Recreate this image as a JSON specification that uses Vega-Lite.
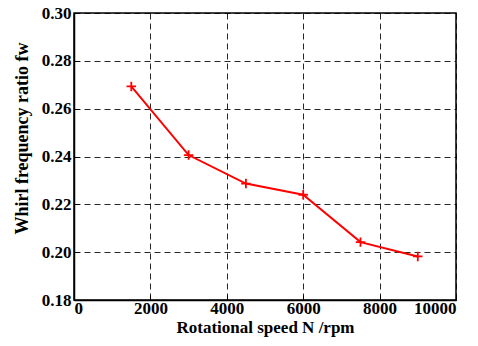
{
  "$schema": "https://vega.github.io/schema/vega-lite/v6.json",
  "autosize": "none",
  "width": 382,
  "height": 287,
  "padding": {"left": 74, "top": 13, "right": 22, "bottom": 46},
  "background": "white",
  "config": {
    "view": {"stroke": "black", "strokeWidth": 1.5},
    "font": "Liberation Serif",
    "axis": {
      "labelFont": "Liberation Serif",
      "labelFontWeight": "bold",
      "labelFontSize": 17,
      "labelColor": "black",
      "titleFont": "Liberation Serif",
      "titleFontWeight": "bold",
      "titleFontSize": 18,
      "titleColor": "black",
      "grid": true,
      "gridColor": "black",
      "gridDash": [6, 4],
      "gridWidth": 1,
      "gridOpacity": 0.85,
      "domainColor": "black",
      "domainWidth": 1.5,
      "tickColor": "black",
      "tickSize": -5,
      "labelPadding": 8
    }
  },
  "data": {
    "values": [
      {"N": 1500, "fw": 0.2693},
      {"N": 3000, "fw": 0.2406},
      {"N": 4500, "fw": 0.2287},
      {"N": 6000, "fw": 0.2240},
      {"N": 7500, "fw": 0.2042},
      {"N": 9000, "fw": 0.1982}
    ]
  },
  "encoding": {
    "x": {
      "field": "N",
      "type": "quantitative",
      "scale": {"domain": [0, 10000], "nice": false},
      "axis": {"values": [0, 2000, 4000, 6000, 8000, 10000], "format": "d", "title": "Rotational speed N  /rpm", "titlePadding": 3, "titleFontSize": 17, "labelPadding": 5}
    },
    "y": {
      "field": "fw",
      "type": "quantitative",
      "scale": {"domain": [0.18, 0.30], "nice": false, "zero": false},
      "axis": {"values": [0.18, 0.20, 0.22, 0.24, 0.26, 0.28, 0.30], "format": ".2f", "title": "Whirl frequency ratio fw", "titlePadding": 10, "titleY": 125}
    }
  },
  "layer": [
    {"mark": {"type": "line", "color": "#ff0000", "strokeWidth": 2}},
    {"mark": {"type": "point", "shape": "M-1,0L1,0M0,-1L0,1", "filled": false, "stroke": "#ff0000", "strokeWidth": 1.8, "size": 90, "opacity": 1}}
  ]
}
